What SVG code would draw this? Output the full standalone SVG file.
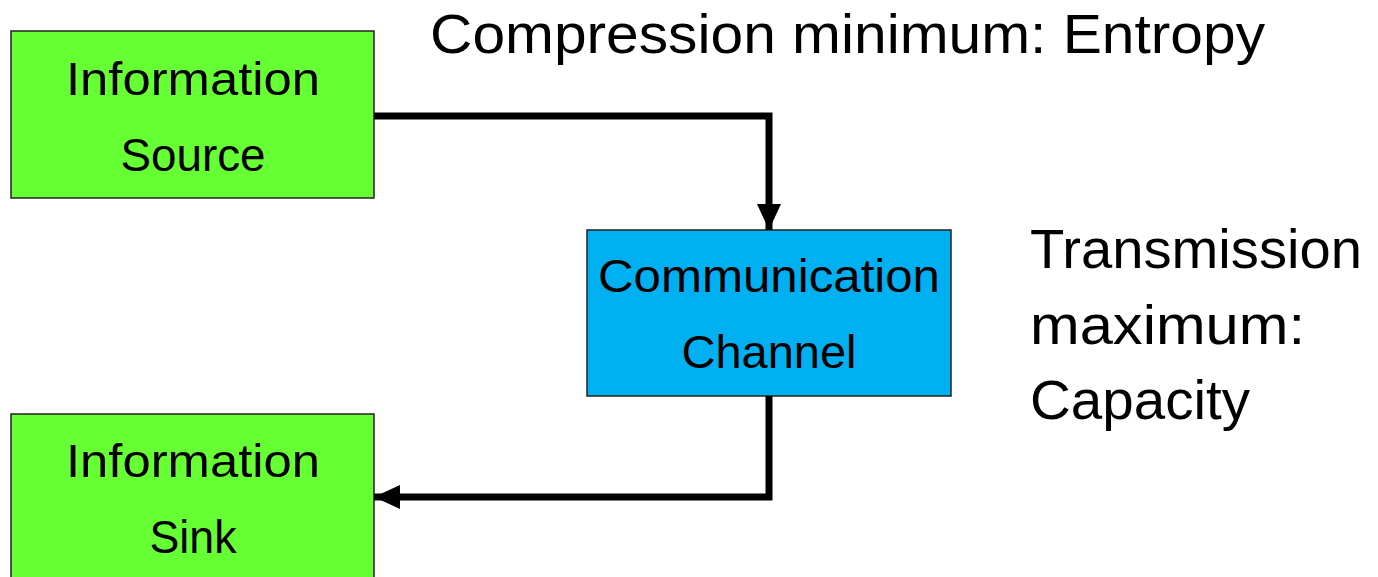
<svg xmlns="http://www.w3.org/2000/svg" width="1378" height="577" viewBox="0 0 1378 577">
<style>
.box{stroke:#222;stroke-width:1.5}
.green{fill:#66ff33}
.blue{fill:#00b0f0}
text{font-family:"Liberation Sans",Arial,sans-serif;font-size:46px;fill:#000}
.big{font-size:56px}
.c{text-anchor:middle}
.conn{fill:none;stroke:#000;stroke-width:7;stroke-linejoin:miter}
</style>
<defs>
<marker id="arr" markerUnits="userSpaceOnUse" markerWidth="26" markerHeight="26" viewBox="0 0 26 26" refX="26" refY="13" orient="auto">
<path d="M0,1 L26,13 L0,25 Z" fill="#000"/>
</marker>
</defs>
<rect width="1378" height="577" fill="#fff"/>
<g id="source">
<rect class="box green" x="11" y="31" width="363" height="167"/>
<text class="c" x="193" y="95" textLength="254" lengthAdjust="spacingAndGlyphs">Information</text>
<text class="c" x="193" y="171" textLength="145" lengthAdjust="spacingAndGlyphs">Source</text>
</g>
<g id="channel">
<rect class="box blue" x="587" y="230" width="364" height="166"/>
<text class="c" x="769" y="292" textLength="342" lengthAdjust="spacingAndGlyphs">Communication</text>
<text class="c" x="769" y="368" textLength="175" lengthAdjust="spacingAndGlyphs">Channel</text>
</g>
<g id="sink">
<rect class="box green" x="11" y="414" width="363" height="170"/>
<text class="c" x="193" y="477" textLength="254" lengthAdjust="spacingAndGlyphs">Information</text>
<text class="c" x="193" y="553" textLength="87" lengthAdjust="spacingAndGlyphs">Sink</text>
</g>
<g id="labels">
<text class="big" x="430" y="53" textLength="835" lengthAdjust="spacingAndGlyphs">Compression minimum: Entropy</text>
<text class="big" x="1030" y="268" textLength="332" lengthAdjust="spacingAndGlyphs">Transmission</text>
<text class="big" x="1030" y="344" textLength="275" lengthAdjust="spacingAndGlyphs">maximum:</text>
<text class="big" x="1030" y="419" textLength="220" lengthAdjust="spacingAndGlyphs">Capacity</text>
</g>
<g id="connectors">
<path class="conn" d="M374,116 H769 V230" marker-end="url(#arr)"/>
<path class="conn" d="M769,396 V497 H374" marker-end="url(#arr)"/>
</g>
</svg>
